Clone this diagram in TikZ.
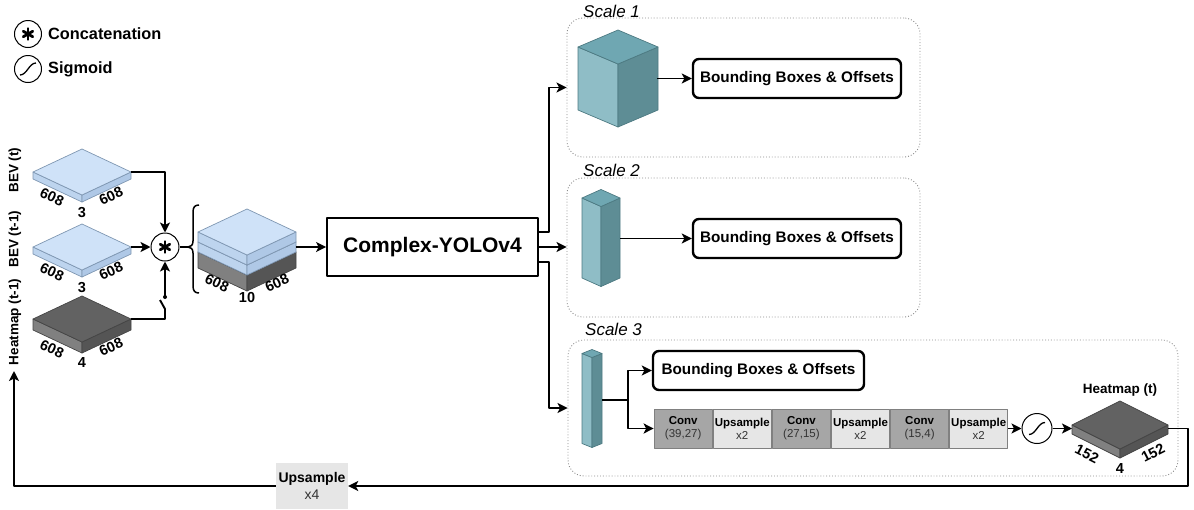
\documentclass[tikz,border=0pt]{standalone}
\usepackage{fontspec}
\setmainfont{Liberation Sans}
\usetikzlibrary{arrows.meta}

\definecolor{bevtop}{HTML}{CFE2F8}
\definecolor{bevleft}{HTML}{BDD4EE}
\definecolor{bevright}{HTML}{AFC8E6}
\definecolor{bevedge}{HTML}{7F97B2}
\definecolor{darktop}{HTML}{626262}
\definecolor{darkleft}{HTML}{808080}
\definecolor{darkright}{HTML}{555555}
\definecolor{darkedge}{HTML}{454545}
\definecolor{tealtop}{HTML}{6FA7B2}
\definecolor{tealleft}{HTML}{8FBDC6}
\definecolor{tealright}{HTML}{5E8D95}
\definecolor{tealedge}{HTML}{4D7A82}
\definecolor{convfill}{HTML}{A6A6A6}
\definecolor{upfill}{HTML}{E6E6E6}
\definecolor{celledge}{HTML}{808080}
\definecolor{txtgray}{HTML}{333333}

% isometric prism: name, centre x, centre y of top face, half width, half height, thickness, colour scheme
\newcommand\prism[7]{%
  \coordinate (#1-L) at ({#2-#4},{#3});
  \coordinate (#1-R) at ({#2+#4},{#3});
  \coordinate (#1-T) at ({#2},{#3-#5});
  \coordinate (#1-F) at ({#2},{#3+#5});
  \path[#7-left] ({#2-#4},{#3}) -- ({#2},{#3+#5}) -- ({#2},{#3+#5+#6}) -- ({#2-#4},{#3+#6}) -- cycle;
  \path[#7-right] ({#2},{#3+#5}) -- ({#2+#4},{#3}) -- ({#2+#4},{#3+#6}) -- ({#2},{#3+#5+#6}) -- cycle;
  \path[#7-top] ({#2-#4},{#3}) -- ({#2},{#3-#5}) -- ({#2+#4},{#3}) -- ({#2},{#3+#5}) -- cycle;
}
% heavy asterisk inside a circle node
\newcommand\catmark[1]{%
  \foreach \a in {90,30,150}{\draw[line width=2.8pt,line cap=round] (#1.center) ++(\a:5.5) -- ++(\a+180:11);}
}
% sigmoid curve inside a circle node
\newcommand\sigmark[1]{%
  \draw[line width=1.3pt] ([shift={(-8pt,-6pt)}]#1.center) .. controls +(7pt,0pt) and +(-7pt,0pt) .. ([shift={(8pt,6pt)}]#1.center);
}
\newcommand\fsz[1]{\fontsize{#1pt}{#1pt}\selectfont}

\begin{document}
\begin{tikzpicture}[x=1pt,y=-1pt,line join=round,
  bev-top/.style={fill=bevtop,draw=bevedge,line width=0.7pt},
  bev-left/.style={fill=bevleft,draw=bevedge,line width=0.7pt},
  bev-right/.style={fill=bevright,draw=bevedge,line width=0.7pt},
  dark-top/.style={fill=darktop,draw=darkedge,line width=0.7pt},
  dark-left/.style={fill=darkleft,draw=darkedge,line width=0.7pt},
  dark-right/.style={fill=darkright,draw=darkedge,line width=0.7pt},
  teal-top/.style={fill=tealtop,draw=tealedge,line width=0.7pt},
  teal-left/.style={fill=tealleft,draw=tealedge,line width=0.7pt},
  teal-right/.style={fill=tealright,draw=tealedge,line width=0.7pt},
  conn/.style={line width=1.9pt,-{Stealth[length=10pt,width=10pt,inset=2.5pt]}},
  wire/.style={line width=1.9pt},
  opcircle/.style={circle,draw,line width=1pt,fill=white,minimum size=28pt,inner sep=0pt},
  legtext/.style={anchor=west,font=\fsz{16.3}\bfseries,inner sep=0pt},
  sidelab/.style={rotate=90,font=\fsz{13.5}\bfseries,inner sep=0pt},
  dimlab/.style={font=\fsz{14.5}\bfseries,inner sep=0pt},
  yolobox/.style={draw,line width=1.8pt,minimum width=211pt,minimum height=58pt,font=\fsz{21}\bfseries},
  scalebox/.style={draw=black!45,dotted,line width=0.9pt,rounded corners=16pt,inner sep=0pt},
  scalelab/.style={anchor=base west,font=\fsz{17}\itshape,inner sep=0pt},
  bbox/.style={draw,line width=2.4pt,rounded corners=6pt,fill=white,minimum height=39pt,font=\fsz{15.3}\bfseries},
  cell/.style={draw=celledge,line width=0.8pt,minimum width=58.3pt,minimum height=39pt,inner sep=0pt,align=center,font=\fontsize{11.5pt}{13pt}\selectfont},
  convcell/.style={cell,fill=convfill},
  upcell/.style={cell,fill=upfill},
]
\useasboundingbox (0,0) rectangle (1194,509);

% legend
\node[opcircle,minimum size=27pt] (lgcat) at (28,34) {};
\catmark{lgcat}
\node[legtext] (lgcattxt) at (48,34) {Concatenation};
\node[opcircle,minimum size=27pt] (lgsig) at (28,69) {};
\sigmark{lgsig}
\node[legtext] (lgsigtxt) at (48,69) {Sigmoid};

% input grids
\prism{bevA}{82}{172}{49}{23}{7}{bev}
\prism{bevB}{82}{247}{49}{23}{7}{bev}
\prism{hmA}{82}{319}{49}{23}{11}{dark}

\node[sidelab] (labA) at (15,170) {BEV (t)};
\node[sidelab] (labB) at (15,239) {BEV (t-1)};
\node[sidelab] (labC) at (15,322) {Heatmap (t-1)};

\node[dimlab,rotate=-25] (dA1) at (52,197) {608};
\node[dimlab,rotate=25] (dA2) at (111,196) {608};
\node[dimlab] (dA3) at (82,213) {3};
\node[dimlab,rotate=-25] (dB1) at (52,272) {608};
\node[dimlab,rotate=25] (dB2) at (111,271) {608};
\node[dimlab] (dB3) at (82,288) {3};
\node[dimlab,rotate=-25] (dC1) at (52,349) {608};
\node[dimlab,rotate=25] (dC2) at (111,347) {608};
\node[dimlab] (dC3) at (82,363) {4};

% concatenation
\node[opcircle] (cat) at (165,247) {};
\catmark{cat}
\draw[conn] (bevA-R) -| (cat.north);
\draw[conn] (bevB-R) -- (cat.west);
\coordinate (swA) at (165,309);
\coordinate (swB) at (160,300);
\coordinate (swC) at (165,297);
\draw[wire] (hmA-R) -| (swA) -- (swB);
\fill (swC) circle (2);
\draw[conn] (swC) -- (cat.south);

% brace
\coordinate (brtip) at (188,247);
\draw[line width=1.3pt] (cat.east) -- (brtip);
\draw[line width=1.5pt] (199,205) .. controls (195,205) and (193,207) .. (193,212) -- (193,241)
  .. controls (193,245) and (191,247) .. (brtip) .. controls (191,247) and (193,249) .. (193,253)
  -- (193,286) .. controls (193,291) and (195,293) .. (199,293);

% stacked input
\prism{stkC}{247}{252}{49}{23}{16}{dark}
\prism{stkB}{247}{242}{49}{23}{10}{bev}
\prism{stkA}{247}{232}{49}{23}{10}{bev}
\coordinate (stkout) at (296,247);
\node[dimlab,rotate=-25] (dS1) at (217,283) {608};
\node[dimlab,rotate=25] (dS2) at (277,283) {608};
\node[dimlab] (dS3) at (247,298) {10};

% backbone
\node[yolobox] (yolo) at (432.5,247) {Complex-YOLOv4};
\draw[conn] (stkout) -- (yolo.west);

% scale frames
\node[scalebox,minimum width=353pt,minimum height=139pt] (s1) at (743.5,87.5) {};
\node[scalebox,minimum width=353pt,minimum height=139pt] (s2) at (743.5,247.5) {};
\node[scalebox,minimum width=610pt,minimum height=136pt] (s3) at (873,408) {};
\node[scalelab] (s1lab) at (583,17) {Scale 1};
\node[scalelab] (s2lab) at (583,176) {Scale 2};
\node[scalelab] (s3lab) at (585,335) {Scale 3};

\draw[conn] ([yshift=15pt]yolo.east) -- ++(10,0) |- (s1.west);
\draw[conn] (yolo.east) -- (yolo.east -| s2.west);
\draw[conn] ([yshift=-15pt]yolo.east) -- ++(10,0) |- (s3.west);

% scale 1
\prism{cube}{618}{47}{40}{17}{63}{teal}
\coordinate (cubeout) at (657,78.5);
\node[bbox,minimum width=208pt] (bb1) at (797,78.5) {Bounding Boxes \& Offsets};
\draw[conn] (cubeout) -- (bb1.west);

% scale 2
\prism{pilB}{601}{198}{19}{8.5}{80}{teal}
\coordinate (pilBout) at (620,238.5);
\node[bbox,minimum width=208pt] (bb2) at (797,238.5) {Bounding Boxes \& Offsets};
\draw[conn] (pilBout) -- (bb2.west);

% scale 3
\prism{pilC}{592}{353.5}{10}{4}{90}{teal}
\coordinate (pilCout) at (602,400);
\coordinate (brC) at (628,400);
\node[bbox,minimum width=211pt] (bb3) at (758.5,370.5) {Bounding Boxes \& Offsets};
\node[convcell] (cv1) at (683.2,428.5) {\textbf{Conv}\\\textcolor{txtgray}{(39,27)}};
\node[upcell,anchor=west] (up1) at (cv1.east) {\textbf{Upsample}\\\textcolor{txtgray}{x2}};
\node[convcell,anchor=west] (cv2) at (up1.east) {\textbf{Conv}\\\textcolor{txtgray}{(27,15)}};
\node[upcell,anchor=west] (up2) at (cv2.east) {\textbf{Upsample}\\\textcolor{txtgray}{x2}};
\node[convcell,anchor=west] (cv3) at (up2.east) {\textbf{Conv}\\\textcolor{txtgray}{(15,4)}};
\node[upcell,anchor=west] (up3) at (cv3.east) {\textbf{Upsample}\\\textcolor{txtgray}{x2}};
\draw[wire] (pilCout) -- (brC);
\draw[conn] (brC) |- (bb3.west);
\draw[conn] (brC) |- (cv1.west);

\node[opcircle,minimum size=30pt] (sig) at (1037,428.5) {};
\sigmark{sig}
\draw[conn] (up3.east) -- (sig.west);

\prism{hmB}{1120}{425}{48}{24}{9}{dark}
\coordinate (hmBin) at (1072,428.5);
\coordinate (hmBout) at (1168,428.5);
\draw[conn] (sig.east) -- (hmBin);
\node[font=\fsz{13.5}\bfseries,inner sep=0pt] (hmBlab) at (1120,390) {Heatmap (t)};
\node[dimlab,rotate=-27] (dH1) at (1087,454) {152};
\node[dimlab,rotate=27] (dH2) at (1153,453) {152};
\node[dimlab] (dH3) at (1120,469) {4};

% feedback to the next frame
\node[fill=upfill,minimum width=72pt,minimum height=46pt,inner sep=0pt,align=center,font=\fontsize{14pt}{17pt}\selectfont] (ups4) at (312,486) {\textbf{Upsample}\\\textcolor{txtgray}{x4}};
\coordinate (fbcorner) at (1188,486);
\coordinate (fbtip) at (14,371);
\draw[conn] (hmBout) -| (fbcorner) -- (ups4.east);
\draw[conn] (ups4.west) -| (fbtip);

\end{tikzpicture}
\end{document}
